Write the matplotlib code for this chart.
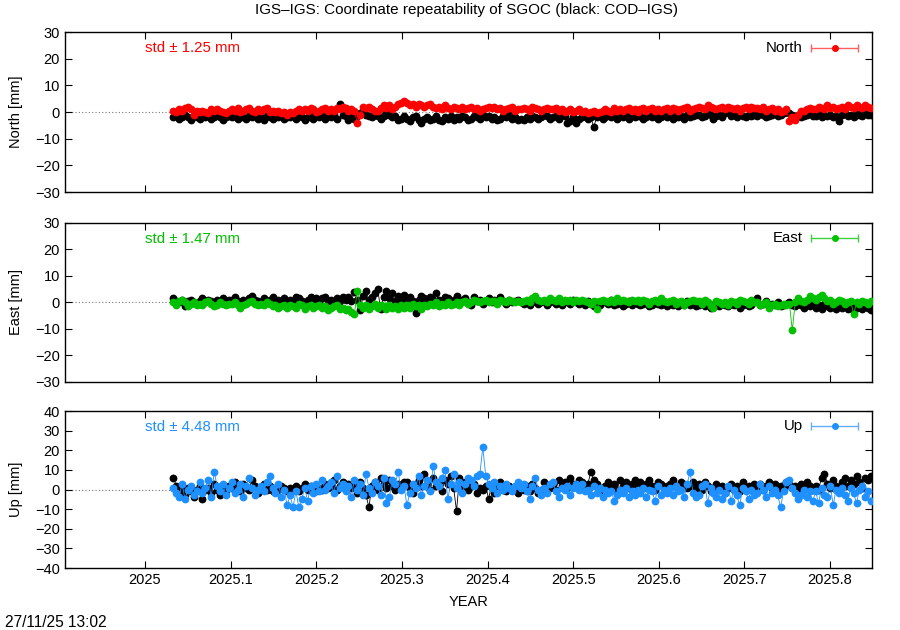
import numpy as np
import matplotlib
matplotlib.use('Agg')
import matplotlib.pyplot as plt

plt.rcParams['font.family'] = ['Liberation Sans', 'DejaVu Sans']

# epochs: roughly one solution every 1.25 days, early Jan to early Nov 2025
t_start = 2025.0330
t_step = 0.003410

north_sgoc = [0.5, 0.0, 1.0, 0.5, 1.5, 2.0, 1.0, -1.0, 0.5, 0.0,
              0.5, 0.0, -0.5, 1.0, 0.5, 1.0, 0.5, 0.0, -0.5, 0.5,
              1.0, 0.5, 1.5, 0.0, 0.5, 1.0, 1.5, 0.5, 0.0, 1.0,
              0.5, 1.0, 1.5, 0.0, 0.5, 0.0, 0.5, -0.5, 0.0, -1.0,
              0.0, -0.5, 0.5, 1.0, 0.5, 1.0, 0.5, 1.5, 1.0, 0.0,
              0.5, 1.0, 1.5, 0.5, 1.0, 0.5, 1.5, 1.0, 2.0, 1.5,
              0.5, 1.0, 0.5, -4.0, -1.0, 2.0, 1.5, 2.0, 1.0, 0.5,
              0.5, 1.5, 2.5, 1.5, 2.5, 1.0, 2.0, 3.0, 3.5, 4.0,
              3.5, 2.5, 3.0, 2.0, 3.0, 2.5, 2.0, 2.5, 3.0, 2.0,
              1.5, 2.0, 1.0, 2.5, 1.5, 1.0, 2.0, 1.5, 1.0, 2.0,
              1.0, 1.5, 2.0, 1.0, 1.5, 0.5, 1.0, 1.5, 2.0, 1.5,
              2.0, 1.0, 1.5, 0.5, 1.0, 1.5, 2.0, 0.5, 1.0, 1.0,
              1.5, 1.0, 0.5, 2.0, 1.5, 1.0, 0.5, 1.0, 1.5, 1.0,
              1.0, 1.5, 0.5, 1.0, 0.0, 0.5, 1.0, 0.0, 0.5, 1.0,
              0.0, 0.5, -0.5, 0.0, 0.5, -0.5, 0.0, 0.5, 1.0, 0.5,
              0.0, 1.5, 0.5, 1.0, 0.5, 1.0, 1.5, 0.5, 1.0, 0.0,
              1.0, 1.5, 0.5, 1.0, 1.5, 0.5, 1.0, 0.5, 1.0, 1.5,
              0.5, 1.5, 1.0, 0.5, 1.0, 1.5, 2.0, 0.5, 1.0, 1.5,
              2.0, 1.5, 1.0, 2.5, 2.0, 1.5, 1.0, 1.5, 2.0, 1.0,
              2.0, 1.5, 1.0, 1.5, 0.5, 1.5, 2.0, 1.0, 2.0, 1.5,
              1.5, 1.0, 2.0, 0.5, 1.0, 1.5, 0.5, 1.0, 0.0, 0.5,
              1.0, -3.5, -2.0, -3.0, -1.0, 0.5, 0.5, 1.0, 1.5, 1.0,
              1.0, 2.0, 1.5, 1.0, 2.5, 1.5, 2.0, 1.0, 1.5, 2.0,
              1.0, 2.5, 2.0, 1.5, 2.5, 2.0, 1.5, 2.5, 2.0, 1.5]
north_cod = [-2.0, -1.5, -2.5, -2.0, -1.0, -2.0, -3.0, -1.5, -2.0, -2.5,
             -1.0, -2.0, -1.5, -2.5, -2.0, -1.0, -2.0, -3.0, -2.0, -1.5,
             -2.0, -1.5, -2.5, -1.0, -2.0, -2.5, -1.5, -2.0, -1.0, -2.5,
             -2.0, -3.0, -1.5, -2.0, -2.5, -1.0, -2.0, -1.5, -2.5, -2.0,
             -2.0, -1.0, -2.5, -1.5, -2.0, -3.0, -2.0, -1.5, -2.5, -1.0,
             -2.0, -1.0, -2.5, -1.5, -2.0, -1.0, -2.5, 3.0, -1.0, -1.5,
             -3.0, -2.0, -2.5, -1.5, -0.5, 0.5, -1.0, -1.5, -2.0, -1.0,
             -1.5, -2.5, -1.5, -0.5, -1.0, -2.0, -1.5, -3.0, -2.5, -1.5,
             -2.5, -3.5, -2.0, -1.5, -3.0, -4.0, -2.5, -2.0, -3.0, -2.5,
             -1.5, -3.0, -3.5, -2.0, -2.5, -1.5, -3.0, -2.0, -2.5, -1.5,
             -2.0, -3.0, -2.5, -1.5, -2.0, -2.5, -1.0, -2.0, -1.5, -2.5,
             -2.0, -3.0, -2.5, -1.5, -2.0, -1.0, -2.5, -2.0, -3.0, -2.5,
             -3.0, -2.0, -2.5, -1.5, -2.0, -2.5, -2.0, -1.0, -1.5, -2.5,
             -2.0, -1.5, -2.5, -1.0, -1.5, -4.0, -3.5, -2.0, -4.0, -2.5,
             -2.0, -1.5, -2.5, -2.0, -5.5, -2.0, -1.5, -2.5, -2.0, -1.0,
             -2.0, -1.5, -2.5, -1.0, -2.0, -1.5, -2.5, -1.0, -2.0, -1.5,
             -1.5, -2.5, -2.0, -1.0, -2.0, -1.5, -2.5, -2.0, -1.0, -2.0,
             -1.5, -2.5, -1.0, -2.0, -1.5, -2.5, -1.0, -2.0, -1.5, -1.0,
             -1.0, -2.0, -1.5, -0.5, -1.0, -2.5, -1.5, -1.0, -2.0, -0.5,
             0.0, -1.5, -1.0, -2.0, -0.5, -1.5, -2.0, -1.0, -1.5, -1.0,
             -1.5, -0.5, -1.0, -2.0, -1.5, -1.0, -0.5, -1.5, -1.0, -0.5,
             0.0, -0.5, -1.0, -1.5, -1.0, -2.0, -1.5, -1.0, -0.5, -1.5,
             -1.5, -0.5, -2.0, -1.0, -1.5, -1.0, -2.0, -1.5, -3.5, -1.0,
             -0.5, -1.5, -1.0, -2.0, -0.5, -1.0, -1.5, -0.5, -1.0, -1.0]

east_sgoc = [0.0, -1.0, 0.5, 1.0, 0.0, -1.5, -0.5, 0.0, -1.0, -0.5,
             -1.0, 0.0, 0.5, -0.5, -1.5, -1.0, 0.0, -0.5, -1.0, -0.5,
             -0.5, 0.0, -1.0, -2.0, -1.0, -0.5, 0.0, 0.5, -0.5, -1.0,
             -0.5, -1.0, 0.0, -0.5, -1.5, -1.0, -2.0, -1.5, -1.0, -2.0,
             -1.0, -1.5, -2.0, -0.5, -1.0, -2.5, -1.5, -1.0, -2.0, -1.5,
             -1.0, -2.0, -1.5, -3.0, -2.0, -1.5, -1.0, -2.5, -2.0, -3.0,
             -2.5, -3.5, -4.5, 4.5, -1.0, -2.0, -1.0, -2.5, -1.5, -0.5,
             -2.0, -1.0, -1.5, -2.5, -1.0, -2.0, -1.5, -2.5, -1.0, -2.0,
             -1.0, -2.0, -0.5, -1.5, -1.0, -2.5, -1.0, -1.5, -0.5, -1.0,
             0.0, -1.5, -0.5, -1.0, 0.0, -1.0, -0.5, 0.0, -1.0, 0.0,
             0.5, -0.5, 0.0, 1.0, 0.5, 0.0, 0.5, 1.0, 0.0, 0.5,
             0.5, -0.5, 1.0, 0.5, 0.0, 1.0, 0.5, 0.0, 0.5, 0.0,
             0.5, 1.0, 0.0, 1.5, 2.5, 1.0, 0.5, 1.0, 0.0, 1.5,
             1.0, 0.5, 1.5, 0.0, 1.0, 0.5, 1.0, 0.0, 1.0, 0.5,
             1.0, 0.5, 0.0, -0.5, 0.5, -2.5, 0.5, 1.0, 0.5, 0.0,
             1.0, 0.0, 1.5, 0.5, 1.0, 0.5, 0.0, 1.0, 0.5, 1.0,
             0.0, 1.0, 0.5, -0.5, 0.5, 1.0, 0.0, 1.5, 0.5, 0.0,
             0.5, 1.0, -0.5, 0.0, 0.5, -1.0, 0.0, 0.5, 1.0, 0.5,
             0.5, -0.5, 1.0, 0.0, -1.5, -2.0, 0.5, 0.0, -0.5, 0.0,
             -1.0, 0.5, 0.0, -0.5, 1.0, 0.5, 0.0, -0.5, 1.0, 0.0,
             0.0, -1.0, -0.5, 0.0, -2.0, -1.0, -0.5, -1.5, -1.0, -0.5,
             -1.0, -0.5, -10.5, 0.0, 1.5, 0.5, 0.0, 1.0, 2.5, 1.5,
             1.0, 2.0, 3.0, 1.5, 0.5, 1.0, -0.5, 0.0, 1.0, 0.5,
             -0.5, 0.0, 0.5, -4.5, 0.0, -0.5, 0.5, 0.0, -0.5, 0.5]
east_cod = [1.5, 0.5, 0.0, 1.0, -1.5, 0.5, 1.0, 0.0, -0.5, 0.5,
            1.5, 0.0, 1.0, 0.5, -0.5, 1.0, 0.0, 1.5, 0.5, 1.0,
            1.0, 2.0, 0.5, -0.5, 1.0, 0.0, 1.5, 2.5, 1.0, 0.5,
            -0.5, 1.5, 0.5, 1.0, 2.0, 0.0, 1.0, 0.5, 1.5, 0.0,
            1.0, 0.0, 2.0, 1.5, 0.5, -0.5, 1.0, 2.0, 0.5, 1.5,
            0.0, 1.5, 2.0, 0.5, 1.0, -0.5, 1.5, 0.5, 2.0, 1.0,
            2.0, 0.5, 4.0, 1.0, -3.0, 2.5, 4.5, 1.0, 2.0, 3.5,
            5.0, -2.5, 2.0, 4.5, 1.5, 3.5, 0.5, 2.5, 1.0, 3.0,
            1.5, 2.0, 0.5, -4.0, 1.0, 2.5, 1.5, 0.0, 2.0, 1.0,
            3.5, 1.0, 0.5, 2.0, 1.5, 0.0, 1.0, 2.5, 0.5, 1.0,
            1.5, 0.0, -1.0, 2.0, 0.5, 1.0, -0.5, 0.5, 1.5, 0.0,
            1.0, 0.0, 2.0, 0.5, -0.5, 1.0, 0.0, 0.5, 1.0, 0.0,
            -0.5, 0.5, -1.0, 0.0, 1.0, -0.5, 0.0, 0.5, -1.0, 0.0,
            0.5, -0.5, 0.0, -1.0, 0.5, 0.0, -0.5, 1.0, 0.0, -0.5,
            0.0, -1.0, 0.5, -0.5, -1.5, 0.0, -1.0, 0.5, 0.0, -0.5,
            1.0, -1.0, -0.5, 0.0, -1.5, -0.5, 0.5, -1.0, 0.0, -0.5,
            -1.0, -0.5, 0.0, -1.5, -1.0, 0.5, -0.5, -1.0, 0.0, -1.5,
            -0.5, -1.0, 0.0, -1.5, -0.5, -1.0, 0.5, -1.0, -0.5, -1.5,
            -1.0, 0.0, -1.5, -0.5, -2.0, -1.0, 0.0, -1.5, -0.5, -1.0,
            -1.5, -0.5, -1.0, 0.0, -2.0, -1.0, -0.5, -1.5, -1.0, 0.0,
            1.5, -1.0, -0.5, 0.5, -1.5, -0.5, -1.0, 0.0, -1.5, -1.0,
            -0.5, 0.0, -1.0, -1.5, -0.5, -1.0, -2.0, -1.0, -1.5, -0.5,
            -2.0, -1.0, -2.5, -0.5, -1.5, -2.0, -1.0, -2.5, -1.5, -2.0,
            -1.0, -2.5, -1.5, -3.0, -2.0, -1.0, -2.5, -1.5, -2.0, -3.0]

up_sgoc = [1.0, -2.0, -4.0, 3.0, -5.0, 0.0, 2.0, -3.0, -1.0, 4.0,
           -2.0, 1.0, 5.0, -4.0, 9.0, 2.0, -1.0, 3.0, -3.0, 1.0,
           4.0, -2.0, 0.0, 3.0, -4.0, 2.0, 6.0, 1.0, -3.0, 0.0,
           2.0, -1.0, 4.0, 7.0, 1.0, -2.0, 3.0, -4.0, 0.0, -8.0,
           -3.0, -9.0, -1.0, -9.0, -5.0, 1.0, -6.0, 2.0, -2.0, 3.0,
           -1.0, 5.0, 0.0, 2.0, 4.0, -2.0, 7.0, 1.0, 3.0, -1.0,
           2.0, -4.0, 5.0, 0.0, 3.0, -3.0, 8.0, 1.0, -2.0, 4.0,
           2.0, -3.0, 6.0, -7.0, -4.0, 5.0, 3.0, 9.0, 0.0, 2.0,
           -8.0, -2.0, 3.0, 1.0, 7.0, -3.0, 2.0, 5.0, -1.0, 12.0,
           4.0, 2.0, 6.0, 10.0, -5.0, 3.0, 8.0, 1.0, 4.0, -2.0,
           3.0, 6.0, 5.0, 2.0, 7.0, 8.0, 21.5, 7.0, 3.0, 1.0,
           4.0, -2.0, 2.0, 0.0, 3.0, 1.0, -1.0, 2.0, 4.0, 1.0,
           3.0, -1.0, -5.0, 2.0, 6.0, 0.0, -3.0, 1.0, -2.0, 3.0,
           4.0, -1.0, -4.0, 1.0, 0.0, 2.0, -3.0, 1.0, 3.0, 0.0,
           3.0, -1.0, 0.0, -3.0, 2.0, -2.0, 1.0, -4.0, 0.0, -2.0,
           -1.0, -6.0, -3.0, 0.0, -2.0, 1.0, -4.0, -1.0, -3.0, 0.0,
           -2.0, 1.0, -4.0, 0.0, -1.0, -6.0, 2.0, -3.0, 0.0, -2.0,
           1.0, -3.0, 2.0, -1.0, 0.0, -4.0, 3.0, 9.0, -2.0, -4.0,
           -3.0, 2.0, 3.0, -7.0, 1.0, -2.0, -4.0, 0.0, -5.0, -2.0,
           2.0, -6.0, 0.0, -3.0, -8.0, 1.0, -1.0, -5.0, 0.0, -3.0,
           -2.0, 3.0, 0.0, -4.0, 2.0, -2.0, 0.0, -3.0, -9.0, -1.0,
           4.0, 5.0, 1.0, -2.0, -5.0, -3.0, 0.0, -4.0, -1.0, -6.0,
           -1.0, -7.0, 1.0, -3.0, -4.0, 2.0, -8.0, 0.0, -2.0, 1.0,
           -3.0, -6.0, 1.0, -2.0, -7.0, 0.0, 2.0, -4.0, -1.0, -6.0]
up_cod = [6.0, 2.0, -2.0, 0.0, -3.0, 1.0, -1.0, -4.0, 0.0, 2.0,
          -5.0, 0.0, 1.0, -2.0, 3.0, 0.0, -3.0, 1.0, -1.0, 2.0,
          1.0, 4.0, 0.0, -1.0, 3.0, 1.0, 0.0, 5.0, 2.0, -2.0,
          1.0, 3.0, 0.0, 2.0, -1.0, 1.0, 0.0, 2.0, 1.0, -1.0,
          1.0, 0.0, 2.0, -1.0, 1.0, 3.0, 0.0, 2.0, 1.0, -1.0,
          1.0, 0.0, 3.0, 1.0, 2.0, 5.0, 0.0, 2.0, 4.0, 1.0,
          3.0, 1.0, 2.0, -2.0, 4.0, 1.0, -3.0, -9.0, 2.0, 4.0,
          0.0, 6.0, 3.0, 1.0, 5.0, 2.0, 0.0, 3.0, 1.0, 4.0,
          4.0, 1.0, -2.0, 3.0, 5.0, 2.0, 8.0, 3.0, 0.0, 6.0,
          2.0, 4.0, -1.0, 5.0, 3.0, 7.0, 1.0, -11.0, 6.0, 2.0,
          4.0, 0.0, 2.0, 3.0, -2.0, 1.0, 0.0, 2.0, -5.0, 3.0,
          -2.0, 1.0, 4.0, 0.0, -1.0, 2.0, 0.0, 1.0, -2.0, 2.0,
          0.0, 2.0, -1.0, 3.0, 1.0, -2.0, 0.0, 4.0, 2.0, 1.0,
          3.0, 0.0, 5.0, 2.0, 4.0, 1.0, 6.0, 3.0, 2.0, 5.0,
          4.0, 2.0, 3.0, 9.0, 5.0, 3.0, -1.0, 0.0, 2.0, 4.0,
          1.0, 3.0, 0.0, 5.0, 2.0, 4.0, 1.0, 3.0, 5.0, 2.0,
          4.0, 1.0, 3.0, 5.0, 2.0, 0.0, 4.0, 3.0, 1.0, 2.0,
          3.0, 5.0, 2.0, 0.0, 4.0, 3.0, 1.0, 2.0, 4.0, 1.0,
          3.0, 0.0, 4.0, 2.0, -1.0, 1.0, 3.0, 0.0, 2.0, -2.0,
          1.0, 3.0, 0.0, 2.0, -1.0, 4.0, 1.0, 2.0, 0.0, 3.0,
          1.0, 3.0, 0.0, 2.0, 4.0, 1.0, 3.0, 0.0, 2.0, 1.0,
          4.0, 3.0, 1.0, 2.0, 0.0, 3.0, 1.0, 4.0, 2.0, 0.0,
          2.0, 0.0, 6.0, 8.0, 3.0, 1.0, 5.0, 2.0, 0.0, 4.0,
          6.0, 2.0, 5.0, 3.0, 7.0, 4.0, 1.0, 6.0, 5.0, 7.0]

labels = ['North', 'East', 'Up']
ylabels = ['North [mm]', 'East [mm]', 'Up [mm]']
stds = [1.25, 1.47, 4.48]
colors = ['#ff0000', '#00c000', '#1e90ff']
legend_colors = ['#ff6060', '#40d040', '#60b0ff']
ylims = [(-30, 30), (-30, 30), (-40, 40)]
xticks = [2025, 2025.1, 2025.2, 2025.3, 2025.4, 2025.5, 2025.6, 2025.7, 2025.8]

sgoc = [north_sgoc, east_sgoc, up_sgoc]
cod = [north_cod, east_cod, up_cod]

fig = plt.figure(figsize=(9, 6.3), dpi=100)
boxes = [[0.0722, 0.6952, 0.8967, 0.2540],
         [0.0722, 0.3937, 0.8967, 0.2524],
         [0.0722, 0.0984, 0.8967, 0.2492]]

for k in range(3):
    ax = fig.add_axes(boxes[k])
    n = len(sgoc[k])
    t = t_start + np.arange(n) * t_step
    ax.axhline(0, color='#777777', lw=0.8, ls=(0, (1, 2)), zorder=1)
    ax.plot(t, cod[k], '-', color='black', lw=0.6, marker='o', ms=4.6, zorder=2)
    ax.plot(t, sgoc[k], '-', color=colors[k], lw=0.6, marker='o', ms=4.6, zorder=3)
    ax.set_xlim(2024.9065, 2025.849)
    ax.set_ylim(*ylims[k])
    lo, hi = ylims[k]
    ax.set_yticks(np.arange(lo, hi + 1, 10))
    ax.set_xticks(xticks)
    ax.tick_params(direction='in', top=True, right=True, length=5, width=0.8, labelsize=10.5)
    if k < 2:
        ax.set_xticklabels([])
    else:
        ax.set_xticklabels(['%g' % v for v in xticks])
        ax.set_xlabel('YEAR', fontsize=10.5, labelpad=6)
    for sp in ax.spines.values():
        sp.set_linewidth(1.0)
    ax.set_ylabel(ylabels[k], fontsize=10.5, labelpad=9)
    ax.text(0.099, 0.9, 'std \u00b1 %.2f mm' % stds[k], transform=ax.transAxes,
            color=colors[k], fontsize=10.8, va='center', ha='left')
    ax.text(0.914, 0.903, labels[k], transform=ax.transAxes, fontsize=10.8,
            va='center', ha='right')
    ax.errorbar([0.954], [0.903], xerr=[0.029], transform=ax.transAxes, fmt='o',
                color=legend_colors[k], mfc=colors[k], mec=colors[k], ms=4,
                capsize=3, lw=1, clip_on=False)

fig.text(0.518, 0.984, 'IGS\u2013IGS: Coordinate repeatability of SGOC (black: COD\u2013IGS)',
         ha='center', va='center', fontsize=11)
fig.text(0.006, 0.012, '27/11/25 13:02', ha='left', va='center', fontsize=11.2)

fig.savefig('out.png', dpi=100)
